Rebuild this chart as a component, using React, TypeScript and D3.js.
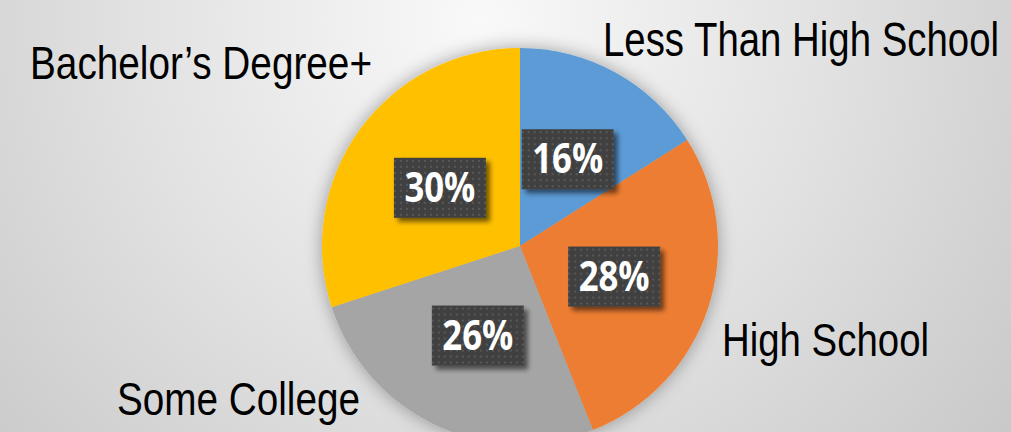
import React, { useLayoutEffect, useRef, useState } from "react";
import * as d3 from "d3";

const categories = ["Less Than High School", "High School", "Some College", "Bachelor’s Degree+"];
const values = [16, 28, 26, 30];
const colors = ["#5B9BD5", "#ED7D31", "#A5A5A5", "#FFC000"];

const W = 1011;
const H = 432;
const CX = 520;
const CY = 246;
const R = 198;

// label placement (layout, not data)
const labelLayout = [
  { x: 603, y: 56, w: 396, fs: 49 },
  { x: 722, y: 356, w: 207, fs: 47 },
  { x: 117, y: 415, w: 243, fs: 47 },
  { x: 30, y: 79, w: 342, fs: 47 },
];

export default function App() {
  const pie = d3.pie<number>().sort(null).value((d) => d)(values);
  const arc = d3.arc<d3.PieArcDatum<number>>().innerRadius(0).outerRadius(R);
  const boxW = 92;
  const boxH = 60;
  const refs = useRef<(SVGTextElement | null)[]>([]);
  const [scales, setScales] = useState<number[]>(categories.map(() => 0.8));
  useLayoutEffect(() => {
    const s = categories.map((_, i) => {
      const el = refs.current[i];
      const nat = el ? el.getComputedTextLength() : 0;
      return nat > 0 ? labelLayout[i].w / nat : 0.8;
    });
    setScales(s);
  }, []);
  return (
    <svg
      width={W}
      height={H}
      style={{ position: "absolute", left: 0, top: 0 }}
      xmlns="http://www.w3.org/2000/svg"
    >
      <defs>
        <radialGradient id="bg" cx="480" cy="20" r="760" gradientUnits="userSpaceOnUse">
          <stop offset="0" stopColor="#f9f9f9" />
          <stop offset="0.45" stopColor="#e2e2e2" />
          <stop offset="1" stopColor="#c2c2c2" />
        </radialGradient>
        <filter id="pieShadow" x="-20%" y="-20%" width="140%" height="140%">
          <feGaussianBlur in="SourceAlpha" stdDeviation="9" />
          <feComponentTransfer>
            <feFuncA type="linear" slope="0.35" />
          </feComponentTransfer>
          <feMerge>
            <feMergeNode />
            <feMergeNode in="SourceGraphic" />
          </feMerge>
        </filter>
        <filter id="boxShadow" x="-20%" y="-20%" width="150%" height="150%">
          <feGaussianBlur in="SourceAlpha" stdDeviation="2.5" />
          <feOffset dx="4" dy="4" />
          <feComponentTransfer>
            <feFuncA type="linear" slope="0.55" />
          </feComponentTransfer>
          <feMerge>
            <feMergeNode />
            <feMergeNode in="SourceGraphic" />
          </feMerge>
        </filter>
        <pattern id="dots" x="0" y="0" width="6" height="6" patternUnits="userSpaceOnUse">
          <rect width="6" height="6" fill="#404040" />
          <rect x="2" y="2" width="2" height="2" fill="#585858" />
        </pattern>
      </defs>
      <rect width={W} height={H} fill="url(#bg)" />
      <g transform={`translate(${CX},${CY})`} filter="url(#pieShadow)">
        {pie.map((p, i) => (
          <path key={i} d={arc(p) || ""} fill={colors[i]} />
        ))}
      </g>
      <g transform={`translate(${CX},${CY})`}>
        {pie.map((p, i) => {
          const [x, y] = arc.centroid(p);
          return (
            <g key={i} transform={`translate(${x},${y})`}>
              <rect
                x={-boxW / 2}
                y={-boxH / 2}
                width={boxW}
                height={boxH}
                fill="url(#dots)"
                filter="url(#boxShadow)"
              />
              <text
                x={0}
                y={14}
                textAnchor="middle"
                fill="#ffffff"
                fontFamily="'Open Sans', 'DejaVu Sans', sans-serif"
                fontWeight="bold"
                fontSize={41}
                textLength={71}
                lengthAdjust="spacingAndGlyphs"
              >
                {`${values[i]}%`}
              </text>
            </g>
          );
        })}
      </g>
      {categories.map((c, i) => {
        const l = labelLayout[i];
        return (
          <text
            key={c}
            ref={(el) => {
              refs.current[i] = el;
            }}
            transform={`translate(${l.x},${l.y}) scale(${scales[i]},1)`}
            fill="#000000"
            fontFamily="'Liberation Sans', Arial, sans-serif"
            fontSize={l.fs}
          >
            {c}
          </text>
        );
      })}
    </svg>
  );
}
